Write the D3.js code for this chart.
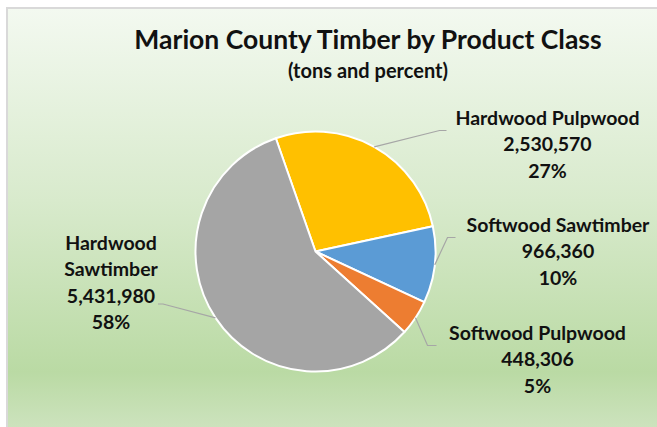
<!DOCTYPE html>
<html>
<head>
    <title>Marion County Timber</title>
    <script src="https://d3js.org/d3.v7.min.js"></script>
    <style>
        body { margin: 0; background: #ffffff; }
        text { font-family: Lato, "Open Sans", sans-serif; font-weight: bold; fill: #111; }
    </style>
</head>
<body>
    <svg width="657" height="427" id="mainSvg"></svg>
    <script>
        // data
        const categories = ["Hardwood Pulpwood", "Softwood Sawtimber", "Softwood Pulpwood", "Hardwood Sawtimber"];
        const tons = [2530570, 966360, 448306, 5431980];
        const labelLines = [["Hardwood Pulpwood"], ["Softwood Sawtimber"], ["Softwood Pulpwood"], ["Hardwood", "Sawtimber"]];

        const colors = ["#FFC000", "#5B9BD5", "#ED7D31", "#A5A5A5"];

        const svg = d3.select("#mainSvg");
        const W = +svg.attr("width"), H = +svg.attr("height");

        // background gradient
        const defs = svg.append("defs");
        const grad = defs.append("linearGradient")
            .attr("id", "bg").attr("x1", 0).attr("y1", 0).attr("x2", 0).attr("y2", 1);
        grad.append("stop").attr("offset", "0%").attr("stop-color", "#f3f9f0");
        grad.append("stop").attr("offset", "45%").attr("stop-color", "#d8eacc");
        grad.append("stop").attr("offset", "85%").attr("stop-color", "#badaa4");
        grad.append("stop").attr("offset", "100%").attr("stop-color", "#cfe4c1");

        svg.append("rect").attr("x", 6).attr("y", 7).attr("width", W).attr("height", H)
            .attr("fill", "#d9d9d9");
        svg.append("rect").attr("x", 8).attr("y", 9).attr("width", W).attr("height", H)
            .attr("fill", "url(#bg)");

        // titles
        svg.append("text").attr("x", 368).attr("y", 49)
            .attr("text-anchor", "middle").style("font-size", "26.5px")
            .text("Marion County Timber by Product Class");
        svg.append("text").attr("x", 368).attr("y", 78)
            .attr("text-anchor", "middle").style("font-size", "20px")
            .text("(tons and percent)");

        const cx = 315.5, cy = 251.5, r = 120;
        const start = -19.3 * Math.PI / 180;
        const total = d3.sum(tons);

        const pie = d3.pie().sort(null).value(d => d)
            .startAngle(start).endAngle(start + 2 * Math.PI);
        const arcs = pie(tons);
        const arc = d3.arc().innerRadius(0).outerRadius(r);

        const g = svg.append("g").attr("transform", `translate(${cx},${cy})`);
        g.selectAll("path.slice").data(arcs).join("path")
            .attr("class", "slice")
            .attr("d", arc)
            .attr("fill", (d, i) => colors[i])
            .attr("stroke", "#fff")
            .attr("stroke-width", 2)
            .attr("stroke-linejoin", "round");

        // label layout (relative to pie centre): elbow, line end, text centre x, first baseline
        const layout = [
            { elbow: [124, -121], end: [131, -121], tx: 232, ty: -126.5 },
            { elbow: [132, -14], end: [140, -14], tx: 242.5, ty: -19.5 },
            { elbow: [112, 94], end: [121, 94], tx: 222, ty: 88.5 },
            { elbow: [-152.5, 52.5], end: [-157.5, 52.5], tx: -204.5, ty: -1.5 }
        ];
        const fmt = d3.format(",");
        const lineH = 26.3;

        arcs.forEach((d, i) => {
            const mid = (d.startAngle + d.endAngle) / 2;
            const p0 = [r * Math.sin(mid), -r * Math.cos(mid)];
            const L = layout[i];
            g.append("polyline")
                .attr("points", [p0, L.elbow, L.end].map(p => p.join(",")).join(" "))
                .attr("fill", "none").attr("stroke", "#a6a6a6").attr("stroke-width", 1.2);

            const lines = labelLines[i].concat([fmt(tons[i]), Math.round(tons[i] / total * 100) + "%"]);
            const t = g.append("text").attr("text-anchor", "middle").style("font-size", "19.5px");
            lines.forEach((s, k) => {
                t.append("tspan").attr("x", L.tx).attr("y", L.ty + k * lineH).text(s);
            });
        });
    </script>
</body>
</html>
